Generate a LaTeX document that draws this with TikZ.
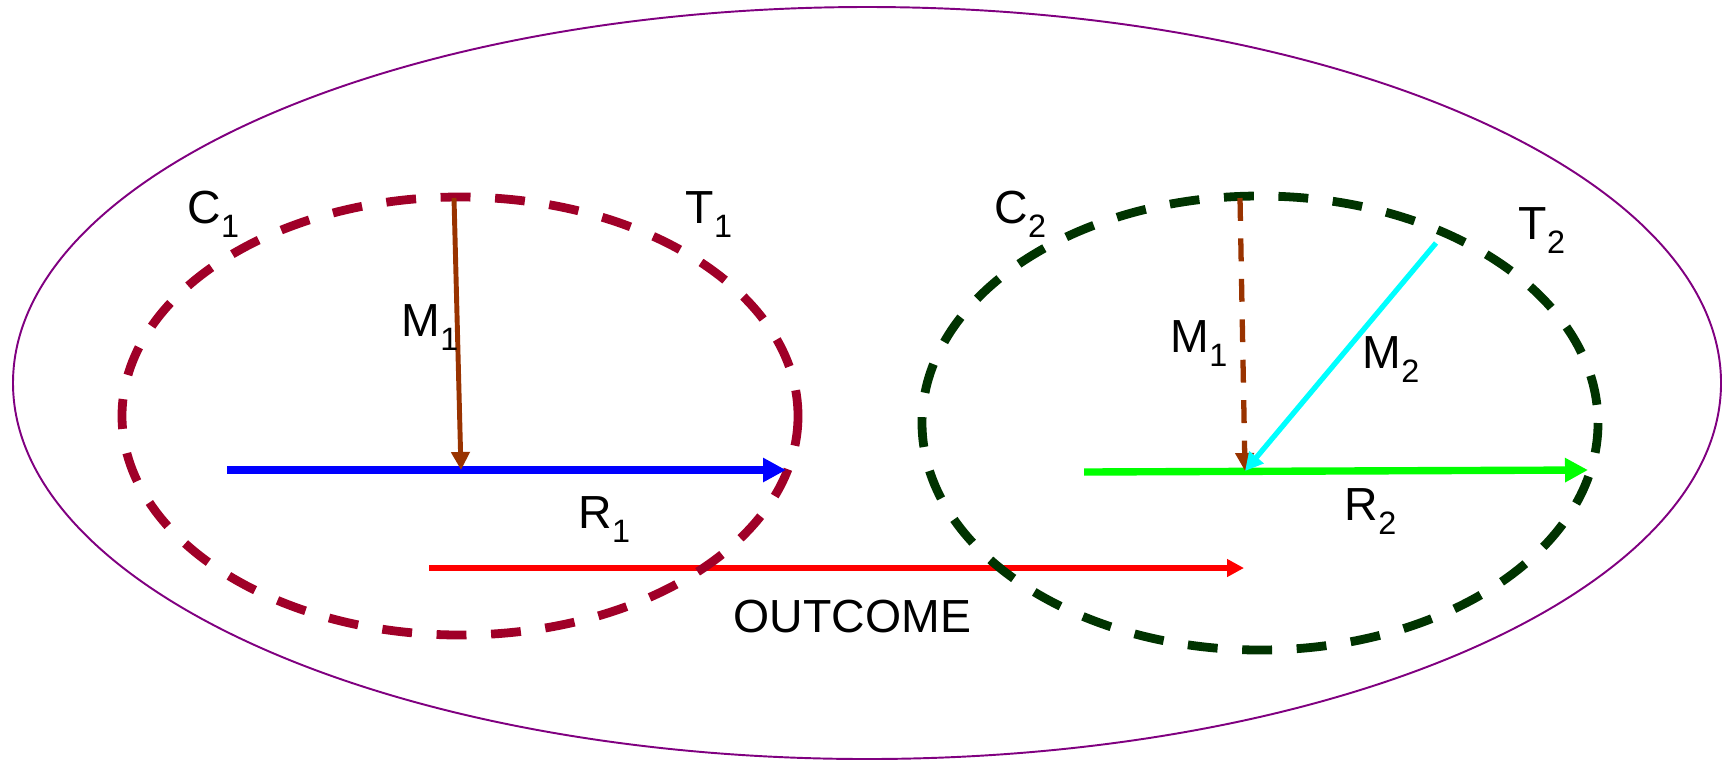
\documentclass[tikz,border=0pt]{standalone}
\usepackage{fontspec}
\setmainfont{Liberation Sans}
\usetikzlibrary{arrows.meta}
\definecolor{outerpurple}{RGB}{128,0,128}
\definecolor{ctxred}{RGB}{160,0,40}
\definecolor{ctxgreen}{RGB}{0,51,0}
\definecolor{mechbrown}{RGB}{153,51,0}
\definecolor{mechcyan}{RGB}{0,255,255}
\definecolor{resgreen}{RGB}{0,255,0}
\definecolor{resblue}{RGB}{0,0,255}
\definecolor{outred}{RGB}{255,0,0}
\newcommand{\lsub}[1]{\raisebox{-4pt}{\fontsize{9.2}{10}\selectfont #1}}
\tikzset{
  outer/.style={draw=outerpurple, line width=0.55pt},
  context/.style={line width=2.5pt, dash pattern=on 8.5pt off 7pt},
  arrow/.style={-{Triangle[length=#1, width=#1]}},
  lbl/.style={anchor=base west, inner sep=0pt, font=\fontsize{13.2}{16}\selectfont}
}

\begin{document}
\begin{tikzpicture}[x=0.01cm, y=-0.01cm]
    \useasboundingbox (0,0) rectangle (1722,760);

    % --- Elipse exterior ---
    \draw [outer] (867,383) ellipse [x radius=854, y radius=376];

    % --- Puntos de las flechas ---
    \coordinate (r1start) at (227,470);
    \coordinate (r1end) at (786,470);
    \coordinate (m1top) at (454,198);
    \coordinate (hit1) at (461,470);
    \coordinate (r2start) at (1084,472);
    \coordinate (r2end) at (1588,470);
    \coordinate (m1btop) at (1240,198);
    \coordinate (m2top) at (1436,243);
    \coordinate (hit2) at (1245,471);
    \coordinate (outstart) at (429,568);
    \coordinate (outend) at (1244,568);

    % --- Flecha OUTCOME ---
    \draw [arrow=0.17cm, outred, line width=1.6pt] (outstart) -- (outend);

    % --- Contextos (elipses discontinuas) ---
    \draw [context, ctxred] (460,416) ellipse [x radius=338, y radius=219];
    \draw [context, ctxgreen] (1260,423) ellipse [x radius=338, y radius=227];

    % --- Flechas R ---
    \draw [arrow=0.23cm, resblue, line width=2.1pt] (r1start) -- (r1end);
    \draw [arrow=0.23cm, resgreen, line width=2.1pt] (r2start) -- (r2end);

    % --- Flechas M ---
    \draw [arrow=0.18cm, mechbrown, line width=1.4pt] (m1top) -- (hit1);
    \draw [arrow=0.18cm, mechbrown, line width=1.5pt, dash pattern=on 6.5pt off 5pt] (m1btop) -- (hit2);
    \draw [arrow=0.18cm, mechcyan, line width=1.5pt] (m2top) -- (hit2);

    % --- Etiquetas ---
    \node (c1) [lbl] at (187,223) {C\lsub{1}};
    \node (t1) [lbl] at (685,223) {T\lsub{1}};
    \node (m1) [lbl] at (401,336) {M\lsub{1}};
    \node (r1) [lbl] at (578,528) {R\lsub{1}};
    \node (c2) [lbl] at (994,223) {C\lsub{2}};
    \node (t2) [lbl] at (1518,239) {T\lsub{2}};
    \node (m1b) [lbl] at (1170,352) {M\lsub{1}};
    \node (m2) [lbl] at (1362,368) {M\lsub{2}};
    \node (r2) [lbl] at (1344,520) {R\lsub{2}};
    \node (outcome) [lbl] at (733,632) {OUTCOME};

\end{tikzpicture}
\end{document}
